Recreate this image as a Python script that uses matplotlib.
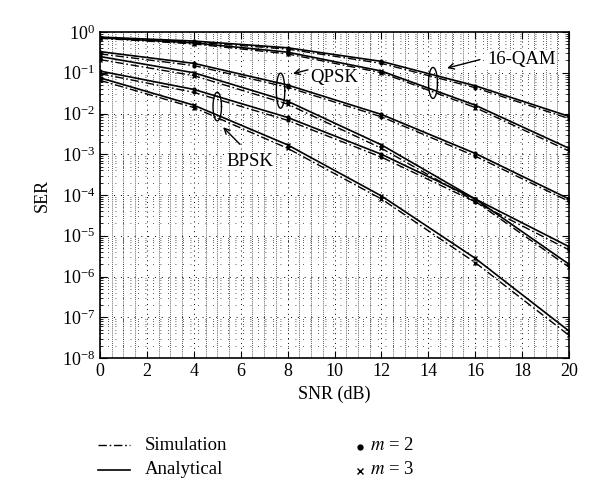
"""
SER vs SNR for BPSK / QPSK / 16-QAM, m = 2 and m = 3
"""
import matplotlib
matplotlib.use('Agg')
import matplotlib.pyplot as plt
from matplotlib.lines import Line2D
from matplotlib.ticker import MultipleLocator, LogLocator, NullFormatter
import numpy as np

plt.rcParams['font.family'] = ['Liberation Serif', 'DejaVu Serif']
plt.rcParams['mathtext.fontset'] = 'stix'

# SNR points (dB)
snr = [0, 4, 8, 12, 16, 20]

# Analytical curves
qam16_m2_ana = [0.75, 0.60, 0.41, 0.19, 0.048, 0.0085]
qam16_m3_ana = [0.72, 0.54, 0.32, 0.11, 0.016, 0.0014]
qpsk_m2_ana = [0.33, 0.17, 0.05, 0.0095, 1.05e-3, 8e-5]
qpsk_m3_ana = [0.25, 0.10, 0.02, 0.0017, 8e-5, 2e-6]
bpsk_m2_ana = [0.11, 0.039, 0.008, 1.0e-3, 8e-5, 5.4e-6]
bpsk_m3_ana = [0.075, 0.016, 0.0017, 9.5e-5, 2.8e-6, 4.6e-8]

# Simulation curves
qam16_m2_sim = [0.72, 0.57, 0.38, 0.17, 0.043, 0.0075]
qam16_m3_sim = [0.70, 0.51, 0.29, 0.10, 0.014, 0.0012]
qpsk_m2_sim = [0.29, 0.15, 0.044, 0.0083, 9e-4, 7e-5]
qpsk_m3_sim = [0.21, 0.085, 0.017, 0.0014, 7e-5, 1.7e-6]
bpsk_m2_sim = [0.095, 0.033, 0.0068, 8.5e-4, 6.8e-5, 4.5e-6]
bpsk_m3_sim = [0.065, 0.014, 0.0014, 8e-5, 2.2e-6, 3.6e-8]

series = [
    (qam16_m2_ana, qam16_m2_sim, 2),
    (qam16_m3_ana, qam16_m3_sim, 3),
    (qpsk_m2_ana, qpsk_m2_sim, 2),
    (qpsk_m3_ana, qpsk_m3_sim, 3),
    (bpsk_m2_ana, bpsk_m2_sim, 2),
    (bpsk_m3_ana, bpsk_m3_sim, 3),
]

dashdot = (0, (6, 2, 1.2, 2))

fig = plt.figure(figsize=(6, 5), dpi=100)
ax = fig.add_axes([100 / 600, 1 - 358 / 500, 469 / 600, (358 - 32) / 500])

for ana, sim, m in series:
    mk = '.' if m == 2 else 'x'
    ms = 4 if m == 2 else 3.5
    ax.plot(snr, ana, color='black', linestyle='-', linewidth=1.2,
            marker=mk, markersize=ms, markeredgewidth=1, zorder=3)
    ax.plot(snr, sim, color='black', linestyle=dashdot, linewidth=1.0,
            marker=mk, markersize=ms, markeredgewidth=1, zorder=3)

ax.set_yscale('log')
ax.set_xlim(0, 20)
ax.set_ylim(1e-8, 1)
ax.xaxis.set_major_locator(MultipleLocator(2))
ax.xaxis.set_minor_locator(MultipleLocator(0.5))
ax.yaxis.set_major_locator(LogLocator(base=10, numticks=20))
ax.yaxis.set_minor_locator(LogLocator(base=10, subs=np.arange(2, 10), numticks=20))
ax.yaxis.set_minor_formatter(NullFormatter())

# MATLAB-like dotted grid: dense vertical columns, sparse horizontal rows
ax.grid(True, axis='x', which='major', linestyle=(0, (1, 4)), color='black', linewidth=0.7)
ax.grid(True, axis='x', which='minor', linestyle=(0, (1, 1.5)), color='#222222', linewidth=0.6)
ax.grid(True, axis='y', which='major', linestyle=(0, (1, 6)), color='black', linewidth=0.7)
ax.grid(True, axis='y', which='minor', linestyle=(0, (1, 8)), color='#222222', linewidth=0.6)
ax.tick_params(which='both', direction='in', top=True, right=True, labelsize=13)
ax.tick_params(which='major', length=5)
ax.tick_params(which='minor', length=0)
ax.tick_params(axis='y', which='minor', length=2.5)
for s in ax.spines.values():
    s.set_linewidth(1.2)

ax.set_xlabel('SNR (dB)', fontsize=13, labelpad=4)
ax.set_ylabel('SER', fontsize=13, labelpad=8)

# ellipses grouping the curves of each modulation
def draw_ellipse(cx, cy_log, a, b):
    t = np.linspace(0, 2 * np.pi, 120)
    ax.plot(cx + a * np.cos(t), 10 ** (cy_log + b * np.sin(t)),
            color='black', linewidth=1.0, zorder=4)

draw_ellipse(5.0, -1.83, 0.18, 0.35)
draw_ellipse(7.7, -1.44, 0.18, 0.43)
draw_ellipse(14.2, -1.25, 0.19, 0.38)

arrow = dict(arrowstyle='->', color='black', lw=1.0, shrinkA=0, shrinkB=0)
ax.annotate('', xy=(5.25, 4.6e-3), xytext=(5.97, 1.75e-3), arrowprops=arrow)
ax.annotate('', xy=(8.23, 0.095), xytext=(8.87, 0.118), arrowprops=arrow)
ax.annotate('', xy=(14.8, 0.13), xytext=(16.2, 0.21), arrowprops=arrow)
ax.text(6.4, 6.8e-4, 'BPSK', fontsize=13.5, ha='center', va='center',
        bbox=dict(facecolor='white', edgecolor='none', pad=0.5))
ax.text(10.0, 0.076, 'QPSK', fontsize=13.5, ha='center', va='center',
        bbox=dict(facecolor='white', edgecolor='none', pad=0.5))
ax.text(18.0, 0.21, '16-QAM', fontsize=13.5, ha='center', va='center',
        bbox=dict(facecolor='white', edgecolor='none', pad=0.5))

# legend drawn below the axes
def fy(py):
    return 1 - py / 500

fig.add_artist(Line2D([98 / 600, 130 / 600], [fy(445), fy(445)],
                      color='black', linestyle=dashdot, linewidth=1.0))
fig.add_artist(Line2D([98 / 600, 130 / 600], [fy(470), fy(470)],
                      color='black', linestyle='-', linewidth=1.2))
fig.text(145 / 600, fy(445), 'Simulation', fontsize=13.5, va='center')
fig.text(145 / 600, fy(470), 'Analytical', fontsize=13.5, va='center')
fig.add_artist(Line2D([360 / 600], [fy(447)], color='black', marker='.',
                      markersize=7, linestyle='none'))
fig.add_artist(Line2D([360 / 600], [fy(471)], color='black', marker='x',
                      markersize=4, markeredgewidth=1, linestyle='none'))
fig.text(370 / 600, fy(446), r'$m$ = 2', fontsize=13.5, va='center')
fig.text(370 / 600, fy(470), r'$m$ = 3', fontsize=13.5, va='center')

fig.savefig('out.png', dpi=100)
plt.close(fig)
